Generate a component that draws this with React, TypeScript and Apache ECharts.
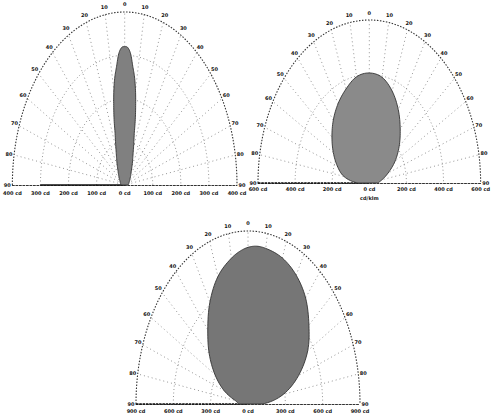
import React, { useEffect, useRef } from "react";
import * as echarts from "echarts";

// ---- data (intensity in cd vs. angle in degrees from the vertical) ----
const angles1 = [-90, -60, -45, -35, -25, -20, -16, -14, -12, -10, -8, -6, -4, -2, 0, 2, 4, 6, 8, 10, 12, 14, 16, 20, 25, 35, 45, 60, 90];
const values1 = [12, 20, 30, 42, 68, 92, 124, 156, 188, 222, 252, 276, 304, 318, 320, 318, 304, 276, 252, 222, 188, 156, 124, 92, 68, 42, 30, 20, 12];

const angles2 = [-90, -80, -70, -60, -50, -40, -30, -20, -10, 0, 10, 20, 30, 40, 50, 60, 70, 80, 90];
const values2 = [62, 139, 184, 224, 263, 302, 337, 368, 397, 405, 395, 360, 312, 259, 210, 160, 108, 70, 44];

const angles3 = [-90, -80, -70, -60, -50, -40, -30, -20, -10, -5, 0, 5, 10, 20, 30, 40, 50, 60, 70, 80, 90];
const values3 = [75, 104, 205, 307, 407, 503, 612, 706, 770, 796, 815, 824, 822, 808, 774, 720, 639, 554, 432, 288, 113];

const ticks1 = ["400 cd", "300 cd", "200 cd", "100 cd", "0 cd", "100 cd", "200 cd", "300 cd", "400 cd"];
const ticks2 = ["600 cd", "400 cd", "200 cd", "0 cd", "200 cd", "400 cd", "600 cd"];
const ticks3 = ["900 cd", "600 cd", "300 cd", "0 cd", "300 cd", "600 cd", "900 cd"];

const angleTicks = [-90, -80, -70, -60, -50, -40, -30, -20, -10, 0, 10, 20, 30, 40, 50, 60, 70, 80, 90];
const unitLabel2 = "cd/klm";

// ---- layout ----
const panels = [
  { cx: 123, cy: 185, rx: 114, ry: 173, max: 400, interval: 100, ticks: ticks1, angles: angles1, values: values1, fill: "#808080", margin: 5, solidFrom: -0.75, dash: [] as number[] },
  { cx: 370, cy: 183, rx: 112, ry: 163, max: 600, interval: 200, ticks: ticks2, angles: angles2, values: values2, fill: "#8a8a8a", margin: 3.5, solidFrom: -1, dash: [2.5, 0.8] },
  { cx: 248, cy: 404, rx: 112, ry: 173, max: 900, interval: 300, ticks: ticks3, angles: angles3, values: values3, fill: "#767676", margin: 4.5, solidFrom: -1, dash: [2.5, 0.8] },
];

function polarPt(api: any, r: number, deg: number) {
  const t = (deg * Math.PI) / 180;
  return api.coord([r * Math.sin(t), r * Math.cos(t)]);
}

// smooth drawing of the curve through the data points (cubic Hermite in angle/intensity space)
function smoothCurve(api: any, angles: number[], values: number[]) {
  const pts: number[][] = [];
  const n = angles.length;
  for (let k = 0; k < n - 1; k++) {
    const a0 = angles[Math.max(0, k - 1)], a1 = angles[k], a2 = angles[k + 1], a3 = angles[Math.min(n - 1, k + 2)];
    const v0 = values[Math.max(0, k - 1)], v1 = values[k], v2 = values[k + 1], v3 = values[Math.min(n - 1, k + 2)];
    const h = a2 - a1;
    const m1 = k === 0 ? v2 - v1 : ((v2 - v0) / (a2 - a0)) * h;
    const m2 = k + 2 > n - 1 ? v2 - v1 : ((v3 - v1) / (a3 - a1)) * h;
    const steps = 8;
    for (let s = 0; s < steps; s++) {
      const t = s / steps;
      const t2 = t * t, t3 = t2 * t;
      const v = (2 * t3 - 3 * t2 + 1) * v1 + (t3 - 2 * t2 + t) * m1 + (-2 * t3 + 3 * t2) * v2 + (t3 - t2) * m2;
      pts.push(polarPt(api, Math.max(0, v), a1 + h * t));
    }
  }
  pts.push(polarPt(api, values[n - 1], angles[n - 1]));
  return pts;
}

export default function App() {
  const ref = useRef<HTMLDivElement>(null);
  useEffect(() => {
    if (!ref.current) return;
    const chart = echarts.init(ref.current, null, { renderer: "svg" });
    const grid: any[] = [];
    const xAxis: any[] = [];
    const yAxis: any[] = [];
    const series: any[] = [];
    panels.forEach((p, i) => {
      grid.push({ left: p.cx - p.rx, top: p.cy - p.ry, width: 2 * p.rx, height: p.ry, containLabel: false });
      xAxis.push({
        type: "value",
        gridIndex: i,
        min: -p.max,
        max: p.max,
        interval: p.interval,
        splitLine: { show: false },
        axisTick: { show: false },
        axisLine: { show: true, onZero: false, lineStyle: { color: "#333", width: 1, type: [2, 1.5] } },
        axisLabel: {
          show: true,
          showMinLabel: true,
          showMaxLabel: true,
          margin: p.margin,
          fontSize: 5,
          fontWeight: "bold",
          color: "#111",
          fontFamily: "DejaVu Sans",
          formatter: (v: number) => p.ticks[Math.round((v + p.max) / p.interval)] ?? "",
        },
        name: i === 1 ? unitLabel2 : "",
        nameLocation: "middle",
        nameGap: 12,
        nameTextStyle: { fontSize: 5, fontWeight: "bold", color: "#111", fontFamily: "DejaVu Sans" },
      });
      yAxis.push({ type: "value", gridIndex: i, min: 0, max: p.max, show: false });

      const rings: number[] = [];
      for (let v = p.interval; v < p.max; v += p.interval) rings.push(v);

      // polar grid
      series.push({
        type: "custom",
        xAxisIndex: i,
        yAxisIndex: i,
        clip: false,
        silent: true,
        data: [[0, 0]],
        z: 1,
        renderItem: (params: any, api: any) => {
          const children: any[] = [];
          rings.forEach((r) => {
            const pts: number[][] = [];
            for (let d = -90; d <= 90; d += 2) pts.push(polarPt(api, r, d));
            children.push({ type: "polyline", shape: { points: pts }, style: { stroke: "#7a7a7a", lineWidth: 0.8, lineDash: [1, 2.5], fill: null } });
          });
          const outer: number[][] = [];
          for (let d = -90; d <= 90; d += 1) outer.push(polarPt(api, p.max, d));
          children.push({ type: "polyline", shape: { points: outer }, style: { stroke: "#333", lineWidth: 1.1, lineDash: [1.5, 1.5], fill: null } });
          for (let d = -80; d <= 80; d += 10) {
            const a = polarPt(api, p.max * 0.06, d);
            const b = polarPt(api, p.max, d);
            children.push({ type: "line", shape: { x1: a[0], y1: a[1], x2: b[0], y2: b[1] }, style: { stroke: "#7a7a7a", lineWidth: 0.8, lineDash: [1, 3] } });
          }
          const s = api.coord([p.max * p.solidFrom, 0]);
          const o = api.coord([0, 0]);
          children.push({ type: "line", shape: { x1: s[0], y1: s[1], x2: o[0], y2: o[1] }, style: { stroke: "#111", lineWidth: 1.4, lineDash: p.dash.length ? p.dash : null } });
          angleTicks.forEach((d) => {
            const q = polarPt(api, p.max * 1.045, d);
            children.push({
              type: "text",
              x: q[0],
              y: q[1],
              style: { text: String(Math.abs(d)), fontSize: 5, fontWeight: "bold", fill: "#111", align: "center", verticalAlign: "middle", fontFamily: "DejaVu Sans" },
            });
          });
          return { type: "group", children };
        },
      });

      // intensity curve
      series.push({
        type: "custom",
        xAxisIndex: i,
        yAxisIndex: i,
        clip: false,
        silent: true,
        data: p.angles.map((a, k) => [a, p.values[k]]),
        z: 2,
        renderItem: (params: any, api: any) => {
          if (params.dataIndex !== 0) return null;
          const pts = smoothCurve(api, p.angles, p.values);
          return {
            type: "polygon",
            shape: { points: pts },
            style: { fill: p.fill, stroke: "#333", lineWidth: 0.9 },
          };
        },
      });
    });

    chart.setOption({
      animation: false,
      backgroundColor: "#ffffff",
      grid,
      xAxis,
      yAxis,
      series,
    });
    return () => chart.dispose();
  }, []);
  return <div ref={ref} style={{ position: "absolute", left: 0, top: 0, width: 493, height: 416 }} />;
}
